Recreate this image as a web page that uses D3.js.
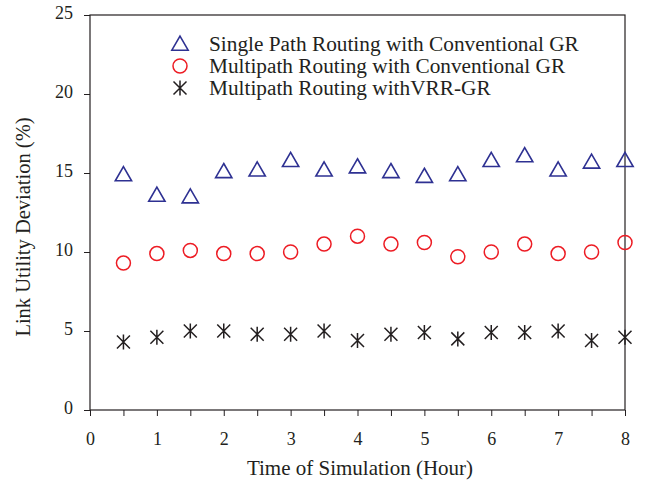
<!DOCTYPE html>
<html>
<head>
<meta charset="utf-8">
<script src="https://cdn.jsdelivr.net/npm/d3@7"></script>
<style>
  body { margin: 0; background: #fff; }
  text { font-family: "Liberation Serif", "Times New Roman", serif; fill: #231f20; }
</style>
</head>
<body>
<div id="chart"></div>
<script>
// simulation time (hours)
const hours = [0.5, 1, 1.5, 2, 2.5, 3, 3.5, 4, 4.5, 5, 5.5, 6, 6.5, 7, 7.5, 8];

const singlePathConv = [14.9, 13.6, 13.5, 15.1, 15.2, 15.8, 15.2, 15.4, 15.1, 14.8, 14.9, 15.8, 16.1, 15.2, 15.7, 15.8];
const multiPathConv = [9.3, 9.9, 10.1, 9.9, 9.9, 10.0, 10.5, 11.0, 10.5, 10.6, 9.7, 10.0, 10.5, 9.9, 10.0, 10.6];
const multiPathVRR = [4.3, 4.6, 5.0, 5.0, 4.8, 4.8, 5.0, 4.4, 4.8, 4.9, 4.5, 4.9, 4.9, 5.0, 4.4, 4.6];

const seriesNames = [
  "Single Path Routing with Conventional GR",
  "Multipath Routing with Conventional GR",
  "Multipath Routing withVRR-GR"
];

const xTicks = [0, 1, 2, 3, 4, 5, 6, 7, 8];
const yTicks = [0, 5, 10, 15, 20, 25];

const width = 654, height = 486;
const margin = { top: 15, right: 29, bottom: 76, left: 90 };

const svg = d3.select("#chart").append("svg")
  .attr("width", width)
  .attr("height", height);

const x = d3.scaleLinear().domain([0, 8]).range([margin.left, width - margin.right]);
const y = d3.scaleLinear().domain([0, 25]).range([height - margin.bottom, margin.top]);

// frame
svg.append("rect")
  .attr("x", x(0)).attr("y", y(25))
  .attr("width", x(8) - x(0)).attr("height", y(0) - y(25))
  .attr("fill", "none").attr("stroke", "#231f20").attr("stroke-width", 1.2);

// axes
const xAxis = svg.append("g")
  .attr("transform", `translate(0,${y(0)})`)
  .call(d3.axisBottom(x).tickValues(d3.range(0, 8.01, 0.5)).tickSize(6).tickFormat(d => xTicks.includes(d) ? d : ""));
xAxis.select(".domain").remove();
xAxis.selectAll("line").attr("stroke", "#231f20");
xAxis.selectAll("text").attr("font-size", 18).attr("y", 35).attr("dy", null).style("font-family", "Liberation Serif");

const yAxis = svg.append("g")
  .attr("transform", `translate(${x(0)},0)`)
  .call(d3.axisLeft(y).tickValues(yTicks).tickSize(6));
yAxis.select(".domain").remove();
yAxis.selectAll("line").attr("stroke", "#231f20");
yAxis.selectAll("text").attr("font-size", 18).attr("x", -17).attr("dy", "0.2em").style("font-family", "Liberation Serif");

// axis titles
svg.append("text")
  .attr("x", 360).attr("y", 475)
  .attr("text-anchor", "middle").attr("font-size", 21)
  .text("Time of Simulation (Hour)");

svg.append("text")
  .attr("transform", `translate(30,227) rotate(-90)`)
  .attr("text-anchor", "middle").attr("font-size", 20.5)
  .text("Link Utility Deviation (%)");

// marker shapes
const triPath = d3.symbol().type(d3.symbolTriangle).size(115);
function drawTriangle(g) {
  g.append("path").attr("d", triPath()).attr("transform", "translate(0,1.5)")
    .attr("fill", "none").attr("stroke", "#2e3192").attr("stroke-width", 1.6);
}
function drawCircle(g) {
  g.append("circle").attr("r", 7)
    .attr("fill", "none").attr("stroke", "#ed1c24").attr("stroke-width", 1.5);
}
function drawStar(g) {
  const v = 7.5, d = 6.5;
  const p = `M0,${-v}V${v}M${-d},${-d}L${d},${d}M${-d},${d}L${d},${-d}`;
  g.append("path").attr("d", p).attr("fill", "none").attr("stroke", "#231f20").attr("stroke-width", 1.5);
}

const series = [
  { values: singlePathConv, draw: drawTriangle },
  { values: multiPathConv, draw: drawCircle },
  { values: multiPathVRR, draw: drawStar }
];

series.forEach(s => {
  svg.append("g").selectAll("g")
    .data(hours.map((h, i) => [h, s.values[i]]))
    .join("g")
    .attr("transform", d => `translate(${x(d[0])},${y(d[1])})`)
    .each(function () { s.draw(d3.select(this)); });
});

// legend
const legend = svg.append("g").attr("transform", "translate(180,44)");
series.forEach((s, i) => {
  const row = legend.append("g").attr("transform", `translate(0,${i * 22})`);
  s.draw(row);
  row.append("text").attr("x", 29).attr("y", 0).attr("dy", "0.33em")
    .attr("font-size", 21.3).text(seriesNames[i]);
});
</script>
</body>
</html>
